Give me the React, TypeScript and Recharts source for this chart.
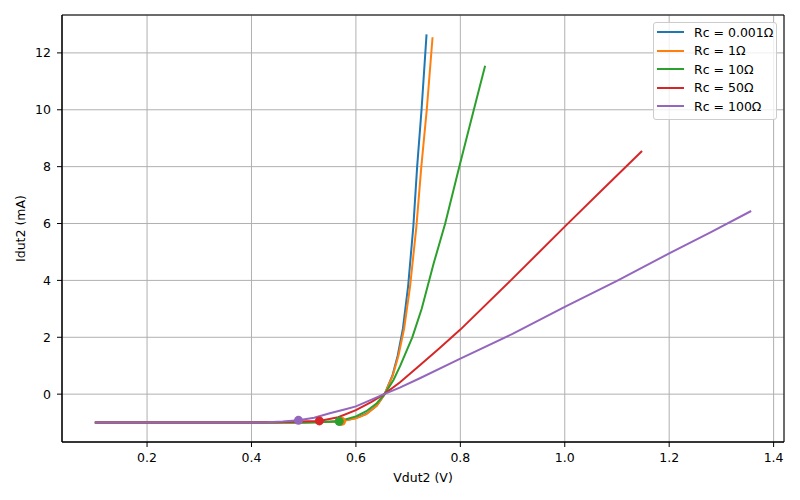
import {
  ComposedChart,
  Line,
  Scatter,
  XAxis,
  YAxis,
  CartesianGrid,
  ReferenceArea,
} from "recharts";

// Rc = 0.001 ohm
const vBlue = [0.1, 0.3, 0.45, 0.5, 0.54, 0.57, 0.6, 0.62, 0.64, 0.655, 0.67, 0.68, 0.69, 0.7, 0.71, 0.7173, 0.7257, 0.7353];
const iBlue = [-1.0, -1.0, -0.999, -0.995, -0.981, -0.95, -0.84, -0.69, -0.4, 0.0, 0.66, 1.35, 2.3, 3.8, 5.9, 8.0, 10.0, 12.65];

// Rc = 1 ohm
const vOrange = [0.1, 0.3, 0.45, 0.5, 0.54, 0.5726, 0.6, 0.62, 0.64, 0.655, 0.6707, 0.6814, 0.6923, 0.7038, 0.7159, 0.7253, 0.7357, 0.7468];
const iOrange = [-1.0, -1.0, -0.999, -0.995, -0.982, -0.955, -0.85, -0.7, -0.41, 0.0, 0.66, 1.35, 2.3, 3.8, 5.9, 8.0, 10.0, 12.55];

// Rc = 10 ohm
const vGreen = [0.1, 0.3, 0.45, 0.5, 0.54, 0.568, 0.6, 0.62, 0.64, 0.655, 0.672, 0.685, 0.708, 0.726, 0.749, 0.771, 0.798, 0.8147, 0.83, 0.8475];
const iGreen = [-1.0, -1.0, -0.998, -0.993, -0.978, -0.955, -0.78, -0.6, -0.32, 0.0, 0.5, 1.0, 2.0, 3.0, 4.6, 6.0, 8.0, 9.2, 10.3, 11.55];

// Rc = 50 ohm
const vRed = [0.1, 0.3, 0.4, 0.45, 0.4865, 0.53, 0.566, 0.6, 0.63, 0.654, 0.684, 0.7225, 0.76, 0.8, 0.8966, 1.0, 1.07, 1.148];
const iRed = [-1.0, -1.0, -0.995, -0.985, -0.965, -0.94, -0.81, -0.56, -0.27, 0.0, 0.41, 1.02, 1.61, 2.27, 4.0, 5.89, 7.15, 8.55];

// Rc = 100 ohm
const vPurple = [0.1, 0.3, 0.4, 0.43, 0.46, 0.49, 0.52, 0.55, 0.58, 0.6, 0.63, 0.654, 0.684, 0.7225, 0.8, 0.9, 1.0, 1.1, 1.2, 1.28, 1.357];
const iPurple = [-1.0, -1.0, -0.995, -0.987, -0.965, -0.92, -0.83, -0.67, -0.53, -0.43, -0.19, 0.0, 0.23, 0.56, 1.25, 2.12, 3.07, 3.98, 4.95, 5.7, 6.44];

// operating point markers
const markerV = [0.569, 0.5726, 0.568, 0.53, 0.49];
const markerI = [-0.955, -0.955, -0.955, -0.94, -0.92];

const names = ["Rc = 0.001Ω", "Rc = 1Ω", "Rc = 10Ω", "Rc = 50Ω", "Rc = 100Ω"];
const colors = ["#1f77b4", "#ff7f0e", "#2ca02c", "#d62728", "#9467bd"];

const xTicks = [0.2, 0.4, 0.6, 0.8, 1.0, 1.2, 1.4];
const yTicks = [0, 2, 4, 6, 8, 10, 12];
const xDomain = [0.0371, 1.4199];
const yDomain = [-1.6825, 13.3325];

const curves = [
  [vBlue, iBlue],
  [vOrange, iOrange],
  [vGreen, iGreen],
  [vRed, iRed],
  [vPurple, iPurple],
].map(([vs, is]) => vs.map((v, k) => ({ v, i: is[k] })));

const font = "'DejaVu Sans', sans-serif";

function Legend() {
  return (
    <div
      style={{
        position: "absolute",
        left: 653,
        top: 22,
        width: 124,
        height: 98,
        border: "1px solid #cccccc",
        borderRadius: 3,
        background: "rgba(255,255,255,0.8)",
        fontFamily: font,
        fontSize: 12.5,
        boxSizing: "border-box",
      }}
    >
      {names.map((n, k) => (
        <div
          key={n}
          style={{ position: "absolute", left: 0, top: k * 18.5, height: 18, display: "flex", alignItems: "center" }}
        >
          <span style={{ display: "inline-block", marginLeft: 3, width: 27, height: 2, background: colors[k] }} />
          <span style={{ marginLeft: 10, color: "#000", whiteSpace: "nowrap" }}>{n}</span>
        </div>
      ))}
    </div>
  );
}

export default function App() {
  return (
    <div style={{ position: "absolute", left: 0, top: 0, width: 800, height: 500, background: "#fff" }}>
      <ComposedChart
        width={800}
        height={500}
        margin={{ top: 15, right: 16, bottom: 0, left: 0 }}
        style={{ fontFamily: font }}
      >
        <CartesianGrid stroke="#b0b0b0" strokeWidth={1} />
        <XAxis
          dataKey="v"
          type="number"
          domain={xDomain}
          ticks={xTicks}
          allowDataOverflow
          height={58}
          stroke="#000"
          tickSize={5}
          tickMargin={6}
          tick={{ fill: "#000", fontSize: 12.5 }}
          tickFormatter={(t: number) => t.toFixed(1)}
          label={() => (
            <text x={423} y={482} textAnchor="middle" fontSize={12.5} fill="#000" fontFamily={font}>
              Vdut2 (V)
            </text>
          )}
        />
        <YAxis
          dataKey="i"
          type="number"
          domain={yDomain}
          ticks={yTicks}
          allowDataOverflow
          width={62}
          stroke="#000"
          tickSize={5}
          tickMargin={6}
          tick={{ fill: "#000", fontSize: 12.5 }}
          label={() => (
            <text
              x={24.5}
              y={228.5}
              textAnchor="middle"
              fontSize={12.5}
              fill="#000"
              fontFamily={font}
              transform="rotate(-90, 24.5, 228.5)"
            >
              Idut2 (mA)
            </text>
          )}
        />
        <ReferenceArea
          x1={xDomain[0]}
          x2={xDomain[1]}
          y1={yDomain[0]}
          y2={yDomain[1]}
          fill="none"
          fillOpacity={0}
          stroke="#000"
          strokeWidth={1}
          ifOverflow="visible"
        />
        {curves.map((d, k) => (
          <Line
            key={names[k]}
            data={d}
            dataKey="i"
            type="linear"
            stroke={colors[k]}
            strokeWidth={2}
            dot={false}
            activeDot={false}
            isAnimationActive={false}
          />
        ))}
        {markerV.map((v, k) => (
          <Scatter
            key={"m" + k}
            data={[{ v, i: markerI[k] }]}
            dataKey="i"
            fill={colors[k]}
            isAnimationActive={false}
            shape={(p: any) => <circle cx={p.cx} cy={p.cy} r={4.5} fill={colors[k]} />}
          />
        ))}
      </ComposedChart>
      <Legend />
    </div>
  );
}
